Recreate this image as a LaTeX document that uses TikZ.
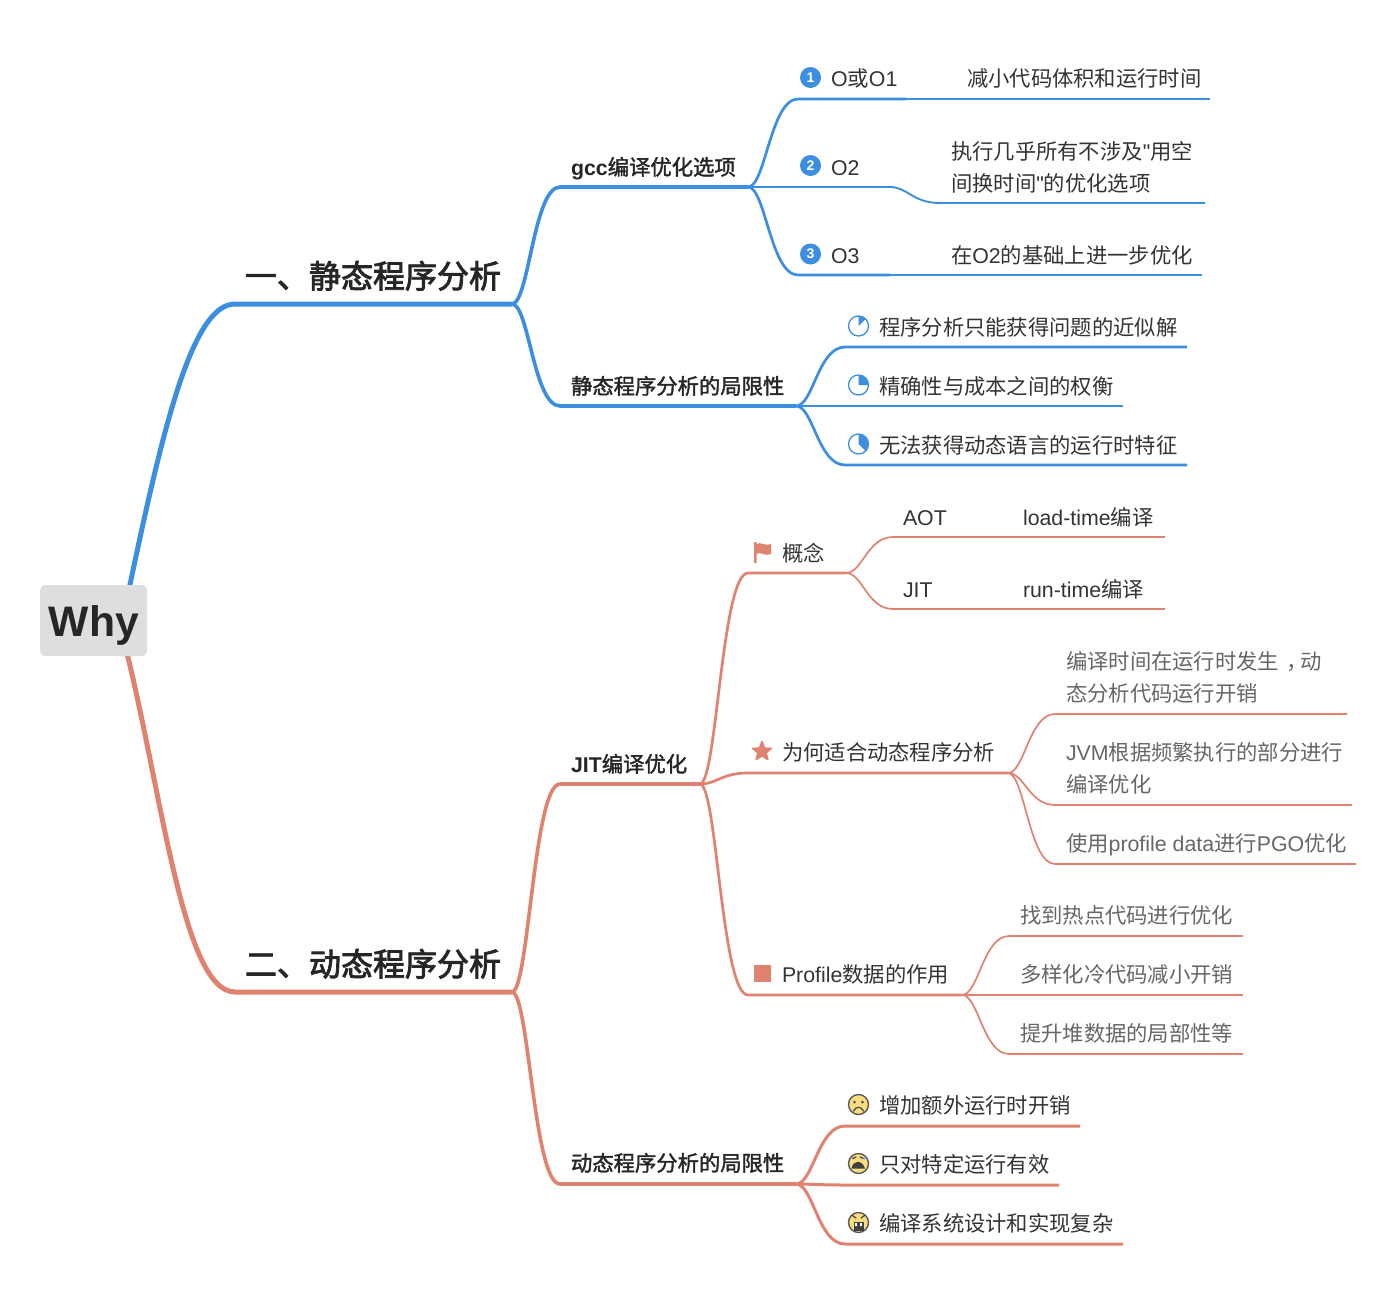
\documentclass[tikz,border=0pt]{standalone}
\usepackage{fontspec}
\setmainfont{Liberation Sans}
\newfontfamily\plainf{Liberation Sans}
\newfontfamily\cjk{Noto Sans CJK SC}
\newfontfamily\cjkb[FakeBold=1.8]{Noto Sans CJK SC}
\newfontfamily\cjkB[FakeBold=2.6]{Noto Sans CJK SC}
\usetikzlibrary{backgrounds,shapes.geometric,calc}
\definecolor{bl}{HTML}{3C8EE0}
\definecolor{rd}{HTML}{E08270}
\definecolor{ink}{HTML}{333333}
\definecolor{inkd}{HTML}{262626}
\definecolor{inkg}{HTML}{666666}
\definecolor{rootbg}{HTML}{DEDEDE}
\definecolor{smile}{HTML}{FBDD80}
\newcommand{\Z}[1]{{\cjk #1}}
\newcommand{\ZB}[1]{{\cjkb\mdseries #1}}
\newcommand{\ZT}[1]{{\cjkB\mdseries #1}}
\newcommand{\Q}{{\plainf "}}
% [style] from, name, x start, y, x end
\newcommand{\Br}[6][]{%
  \coordinate (#3s) at (#4,#5);
  \coordinate (#3e) at (#6,#5);
  \draw[#1] let \p1=(#2),\p2=(#3s) in (\p1) .. controls ({\x1+.35*(\x2-\x1)},\y1) and ({\x1+.45*(\x2-\x1)},\y2) .. (\p2) -- (#3e);
}
\tikzset{
  x=1pt,y=-1pt,
  con/.style={line cap=butt,line join=round},
  bA/.style={con,draw=bl,line width=5pt},
  bB/.style={con,draw=bl,line width=3.6pt},
  bC/.style={con,draw=bl,line width=2.7pt},
  bD/.style={con,draw=bl,line width=1.9pt},
  rA/.style={con,draw=rd,line width=5pt},
  rB/.style={con,draw=rd,line width=3.6pt},
  rC/.style={con,draw=rd,line width=2.7pt},
  rD/.style={con,draw=rd,line width=1.7pt},
  rE/.style={con,draw=rd,line width=1.1pt},
  rF/.style={con,draw=rd,line width=3pt},
  txt/.style={anchor=base west,inner sep=0pt,outer sep=0pt,text=ink,align=left,yshift=-1pt,font=\fontsize{21.33}{32}\selectfont},
  gtx/.style={txt,text=inkg},
  bld/.style={txt,text=inkd,font=\fontsize{21.33}{32}\selectfont\bfseries},
  big/.style={txt,text=inkd,font=\fontsize{32}{38}\selectfont\bfseries},
  numdot/.style={circle,fill=bl,text=white,inner sep=0pt,minimum size=21pt,font=\fontsize{14}{14}\selectfont\bfseries},
  piering/.style={draw=bl,fill=white,line width=1.3pt},
  face/.style={draw=black!65,fill=smile,line width=1.4pt},
  ftr/.style={draw=black!70,line width=1.3pt,line cap=round},
}
\begin{document}
\begin{tikzpicture}
\useasboundingbox (0,0) rectangle (1396,1290);
% ---- root and main titles
\node[rounded corners=5pt,fill=rootbg,minimum width=107pt,minimum height=71pt,inner sep=0pt] (root) at (93.5,620.5) {};
\node[big,font=\fontsize{42.67}{48}\selectfont\bfseries,anchor=base,text=inkd] (whylabel) at (94,635) {Why};
\node[big] (t1) at (245,287) {\ZT{一、静态程序分析}};
\node[big] (t2) at (245,975) {\ZT{二、动态程序分析}};
\begin{pgfonlayer}{background}
\coordinate (sA) at (235,304);
\coordinate (eA) at (512,304);
\coordinate (sB) at (235,992);
\coordinate (eB) at (512,992);
\draw[bA] ([xshift=29pt]root.center) .. controls (160,440) and (190,304) .. (sA) -- (eA);
\draw[rA] ([xshift=25pt]root.center) .. controls (160,770) and (180,992) .. (sB) -- (eB);
\end{pgfonlayer}
% ---- blue branch
\Br[bB]{eA}{gcc}{560}{187}{748}
\Br[bB]{eA}{lim}{560}{406}{796}
\node[bld] (gcct) at (571,174) {gcc\ZB{编译优化选项}};
\node[bld] (limt) at (571,393) {\ZB{静态程序分析的局限性}};
\Br[bC]{gcce}{oa}{798}{99}{906}
\Br[bC]{gcce}{ob}{798}{187}{890}
\Br[bC]{gcce}{oc}{798}{275}{890}
\Br[bD]{oae}{oat}{906}{99}{1210}
\Br[bD]{obe}{obt}{940}{203}{1205}
\Br[bD]{oce}{oct}{890}{275}{1202}
\node[numdot] (n1) at (810.5,77.5) {1};
\node[numdot] (n2) at (810.5,165.5) {2};
\node[numdot] (n3) at (810.5,254) {3};
\node[txt] (oal) at (831,85) {O\Z{或}O1};
\node[txt] (obl) at (831,174) {O2};
\node[txt] (ocl) at (831,262) {O3};
\node[txt] (oatl) at (967,85) {\Z{减小代码体积和运行时间}};
\node[txt] (obt1) at (951,158) {\Z{执行几乎所有不涉及}\Q\Z{用空}};
\node[txt] (obt2) at (951,190) {\Z{间换时间}\Q\Z{的优化选项}};
\node[txt] (octl) at (951,262) {\Z{在}O2\Z{的基础上进一步优化}};
\Br[bC]{lime}{la}{845}{347}{1187}
\Br[bC]{lime}{lb}{845}{406}{1123}
\Br[bC]{lime}{lc}{845}{465}{1187}
\foreach \nm/\yy/\ang in {pa/326/45,pb/385/90,pc/444/135}{
  \node[circle,piering,minimum size=20pt,inner sep=0pt] (\nm) at (858.5,\yy) {};
  \fill[bl] (\nm.center) -- ++(0pt,9.6pt) arc[start angle=90,delta angle=-\ang,radius=9.6pt] -- cycle;
}
\node[txt] (lat) at (879,334) {\Z{程序分析只能获得问题的近似解}};
\node[txt] (lbt) at (879,393) {\Z{精确性与成本之间的权衡}};
\node[txt] (lct) at (879,452) {\Z{无法获得动态语言的运行时特征}};
% ---- red branch
\Br[rB]{eB}{jit}{560}{784}{700}
\Br[rB]{eB}{dyn}{560}{1184}{796}
\node[bld] (jitt) at (571,771) {JIT\ZB{编译优化}};
\node[bld] (dynt) at (571,1170) {\ZB{动态程序分析的局限性}};
\Br[rC]{jite}{cc}{748}{573}{846}
\Br[rC]{jite}{wy}{748}{773}{1008}
\Br[rC]{jite}{pf}{748}{995}{962}
\fill[rd,rounded corners=.4pt] (754,542) rectangle (756.5,563);
\fill[rd] (756,544) .. controls (761,541) and (765,547) .. (771,544) -- (771,554) .. controls (765,557) and (761,551) .. (756,554) -- cycle;
\node[txt] (cct) at (782,560) {\Z{概念}};
\node[star,star points=5,star point ratio=2.3,fill=rd,draw=rd,line width=1.5pt,line join=round,inner sep=0pt,minimum size=20pt] (st) at (762,751.5) {};
\node[txt] (wyt) at (782,759) {\Z{为何适合动态程序分析}};
\node[fill=rd,minimum size=17pt,inner sep=0pt] (sq) at (762.5,973.5) {};
\node[txt] (pft) at (782,981) {Profile\Z{数据的作用}};
\Br[rD]{cce}{aot}{893}{537}{962}
\Br[rD]{cce}{ji}{893}{609}{962}
\Br[rE]{aote}{aotx}{962}{537}{1165}
\Br[rE]{jie}{jix}{962}{609}{1165}
\node[txt] (aotl) at (903,524) {AOT};
\node[txt] (jil) at (903,596) {JIT};
\node[txt] (aotd) at (1023,524) {load-time\Z{编译}};
\node[txt] (jid) at (1023,596) {run-time\Z{编译}};
\Br[rD]{wye}{wa}{1055}{714}{1347}
\Br[rD]{wye}{wb}{1055}{805}{1352}
\Br[rD]{wye}{wc}{1055}{864}{1356}
\node[gtx] (wa1) at (1066,668) {\Z{编译时间在运行时发生\hspace{.35em}，\hspace{-.35em}动}};
\node[gtx] (wa2) at (1066,700) {\Z{态分析代码运行开销}};
\node[gtx] (wb1) at (1066,759) {JVM\Z{根据频繁执行的部分进行}};
\node[gtx] (wb2) at (1066,791) {\Z{编译优化}};
\node[gtx] (wct) at (1066,850) {\Z{使用}profile data\Z{进行}PGO\Z{优化}};
\Br[rD]{pfe}{fa}{1009}{936}{1243}
\Br[rD]{pfe}{fb}{1009}{995}{1243}
\Br[rD]{pfe}{fc}{1009}{1054}{1243}
\node[gtx] (fat) at (1020,922) {\Z{找到热点代码进行优化}};
\node[gtx] (fbt) at (1020,981) {\Z{多样化冷代码减小开销}};
\node[gtx] (fct) at (1020,1040) {\Z{提升堆数据的局部性等}};
\Br[rF]{dyne}{da}{845}{1126}{1080}
\Br[rF]{dyne}{db}{845}{1185}{1059}
\Br[rF]{dyne}{dc}{845}{1244}{1123}
% faces
\node[circle,face,minimum size=20pt,inner sep=0pt] (fa1) at (858.5,1104.5) {};
\fill[black!70] (854.5,1102) circle[radius=1.5pt] (862.5,1102) circle[radius=1.5pt];
\draw[ftr] (853.5,1111) .. controls (856,1106) and (861,1106) .. (863.5,1111);
\node[circle,face,minimum size=20pt,inner sep=0pt] (fa2) at (858.5,1163.5) {};
\draw[ftr] (852.5,1158.5) -- (856,1157) (860,1157) -- (863.5,1158.5);
\fill[black!75] (851.5,1168.5) .. controls (853,1159.5) and (862,1159.5) .. (865,1168.5) -- cycle;
\fill[bl!70] (864.5,1158) circle[radius=1.6pt];
\node[circle,face,minimum size=20pt,inner sep=0pt] (fa3) at (858.5,1222.5) {};
\draw[ftr] (852.5,1215.5) -- (856,1218) (864.5,1215.5) -- (861,1218);
\fill[black!75] (853.5,1221.5) rectangle (863.5,1231);
\fill[white] (855,1223) rectangle (857,1226) (860,1223) rectangle (862,1226);
\node[txt] (dat) at (879,1112) {\Z{增加额外运行时开销}};
\node[txt] (dbt) at (879,1171) {\Z{只对特定运行有效}};
\node[txt] (dct) at (879,1230) {\Z{编译系统设计和实现复杂}};
\end{tikzpicture}
\end{document}
